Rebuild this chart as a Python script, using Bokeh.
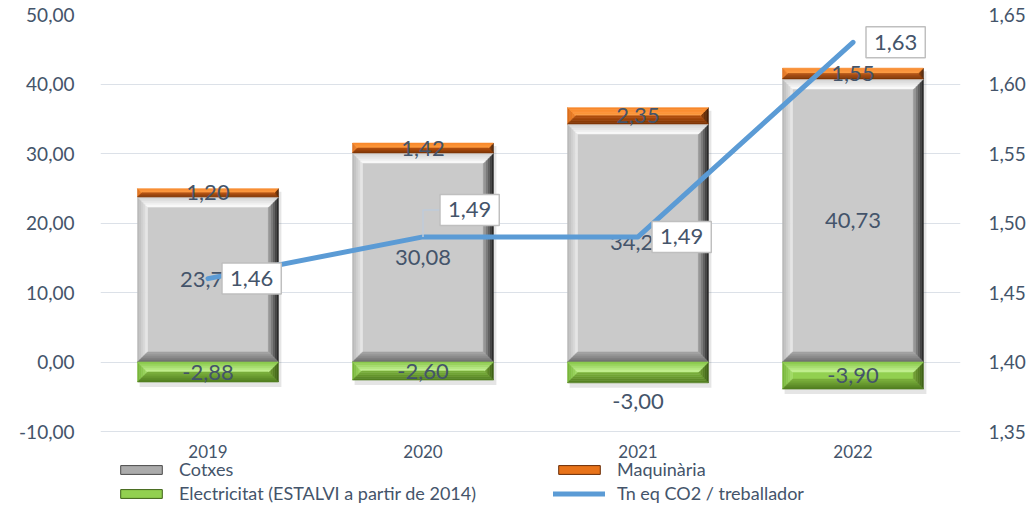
import numpy as np
from bokeh.plotting import figure
from bokeh.models import (Range1d, LinearAxis, FixedTicker, ColumnDataSource, Legend,
                          LegendItem, CustomJSTickFormatter)
from bokeh.core.properties import value
from bokeh.embed import file_html
from bokeh.resources import INLINE

# ---------------- data ----------------
years = ["2019", "2020", "2021", "2022"]
cotxes = [23.74, 30.08, 34.25, 40.73]
maquinaria = [1.20, 1.42, 2.35, 1.55]
electricitat = [-2.88, -2.60, -3.00, -3.90]
co2_per_worker = [1.46, 1.49, 1.49, 1.63]
left_ticks = [-10, 0, 10, 20, 30, 40, 50]
right_ticks = [1.35, 1.40, 1.45, 1.50, 1.55, 1.60, 1.65]

# ---------------- style / layout ----------------
FONT = "Lato"
TXT = "#44546A"
TOP, LEFT, RIGHT = 14, 100, 50
FRAME_W = 860
PLOT_H = 417            # pixel height of the value area (50 -> -10)
FRAME_H = 504 - TOP     # frame extends down to hold year labels and legend
X0, X1 = 0, len(years)
sx = FRAME_W / (X1 - X0)
sy = PLOT_H / (max(left_ticks) - min(left_ticks))
syr = PLOT_H / (max(right_ticks) - min(right_ticks))
YL1 = max(left_ticks)
YL0 = YL1 - FRAME_H / sy
YR1 = max(right_ticks)
YR0 = YR1 - FRAME_H / syr
BAR_W = 0.655
BEVEL = 10

green_label_dy_px = [0, 0, -29, 0]       # 2021 label sits below its bar
line_label_dy_px = [0, 27, 0, 0]         # 2020 label raised with a leader line
line_label_dx_px = [14, 17, 14, 13]
YEAR_DY = 20

fmt = lambda v: f"{v:.2f}".replace(".", ",")

GRAY = dict(face="#CACACA", top=("#D0D0D0", "#FCFCFC"), bottom=("#6A6A6A", "#A8A8A8"),
            left=("#B5B5B5", "#EAEAEA"), right=("#1E1E1E", "#A4A4A4"))
ORANGE = dict(face="#E8731A", top=("#F7872A", "#FF9A3E"), bottom=("#7A3306", "#B4500E"),
              left=("#D96A18", "#F28530"), right=("#3E1A03", "#9C470C"))
GREEN = dict(face="#92D050", top=("#86C545", "#C6F396"), bottom=("#4E7A1E", "#7DB33E"),
             left=("#74B236", "#A6E06A"), right=("#3A5C14", "#76A536"))


def hex2rgb(h):
    h = h.lstrip("#")
    return [int(h[i:i + 2], 16) for i in (0, 2, 4)]


def lerp(c1, c2, t):
    a, b = hex2rgb(c1), hex2rgb(c2)
    return "#%02x%02x%02x" % tuple(int(round(a[i] + (b[i] - a[i]) * t)) for i in range(3))


def bevel(x0, x1, y0, y1, cols, n=5):
    xs, ys, cs = [], [], []
    w = (x1 - x0) * sx
    h = (y1 - y0) * sy
    b = min(BEVEL, h / 2, w / 2)
    bx, by = b / sx, b / sy
    if h / 2 > b:
        xs.append([x0 + bx, x1 - bx, x1 - bx, x0 + bx])
        ys.append([y0 + by, y0 + by, y1 - by, y1 - by])
        cs.append(cols["face"])
    for k in range(n):
        t0, t1 = k / n, (k + 1) / n
        ax0, ax1 = bx * t0, bx * t1
        ay0, ay1 = by * t0, by * t1
        tm = (k + 0.5) / n
        xs.append([x0 + ax0, x0 + ax0, x0 + ax1, x0 + ax1])
        ys.append([y0 + ay0, y1 - ay0, y1 - ay1, y0 + ay1])
        cs.append(lerp(*cols["left"], tm))
        xs.append([x1 - ax0, x1 - ax0, x1 - ax1, x1 - ax1])
        ys.append([y0 + ay0, y1 - ay0, y1 - ay1, y0 + ay1])
        cs.append(lerp(*cols["right"], tm))
        xs.append([x0 + ax0, x1 - ax0, x1 - ax1, x0 + ax1])
        ys.append([y1 - ay0, y1 - ay0, y1 - ay1, y1 - ay1])
        cs.append(lerp(*cols["top"], tm))
        xs.append([x0 + ax0, x1 - ax0, x1 - ax1, x0 + ax1])
        ys.append([y0 + ay0, y0 + ay0, y0 + ay1, y0 + ay1])
        cs.append(lerp(*cols["bottom"], tm))
    return xs, ys, cs


# ---------------- figure ----------------
p = figure(frame_width=FRAME_W, frame_height=FRAME_H,
           x_range=Range1d(X0, X1), y_range=Range1d(YL0, YL1),
           output_backend="svg", toolbar_location=None, x_axis_location=None,
           min_border_left=LEFT, min_border_right=RIGHT, min_border_top=TOP,
           min_border_bottom=0)
p.extra_y_ranges = {"right": Range1d(YR0, YR1)}
p.outline_line_color = None
p.background_fill_color = "white"
p.border_fill_color = "white"

# left axis
p.yaxis.ticker = FixedTicker(ticks=left_ticks)
p.yaxis.formatter = CustomJSTickFormatter(code="return tick.toFixed(2).replace('.', ',');")
p.yaxis.axis_line_color = None
p.yaxis.major_tick_line_color = None
p.yaxis.minor_tick_line_color = None
p.yaxis.major_label_standoff = 20
p.yaxis.major_label_text_font = FONT
p.yaxis.major_label_text_font_size = "19px"
p.yaxis.major_label_text_color = TXT

# right axis
ra = LinearAxis(y_range_name="right", ticker=FixedTicker(ticks=right_ticks),
                formatter=CustomJSTickFormatter(code="return tick.toFixed(2).replace('.', ',');"))
ra.axis_line_color = None
ra.major_tick_line_color = None
ra.minor_tick_line_color = None
ra.major_label_standoff = 22
ra.major_label_text_font = FONT
ra.major_label_text_font_size = "19px"
ra.major_label_text_color = TXT
p.add_layout(ra, "right")

p.xgrid.grid_line_color = None
p.ygrid.ticker = FixedTicker(ticks=left_ticks)
p.ygrid.grid_line_color = "#DCE1E8"
p.ygrid.grid_line_width = 1

centers = [i + 0.5 for i in range(len(years))]

# category labels (drawn under the value area)
p.text(x=centers, y=[min(left_ticks)] * len(years), text=years, y_offset=YEAR_DY,
       text_align="center", text_baseline="middle", text_font=value(FONT),
       text_font_size="17px", text_color=TXT)

# ---------------- bars ----------------
sh_l, sh_r, sh_t, sh_b = [], [], [], []
XS, YS, CS = [], [], []
for i, c in enumerate(centers):
    x0, x1 = c - BAR_W / 2, c + BAR_W / 2
    segs = [(0, cotxes[i], GRAY),
            (cotxes[i], cotxes[i] + maquinaria[i], ORANGE),
            (electricitat[i], 0, GREEN)]
    sh_l.append(x0 + 2 / sx)
    sh_r.append(x1 + 3 / sx)
    sh_t.append(cotxes[i] + maquinaria[i] - 3 / sy)
    sh_b.append(electricitat[i] - 5 / sy)
    for (a, b, cols) in segs:
        xs, ys, cs = bevel(x0, x1, a, b, cols)
        XS += xs
        YS += ys
        CS += cs

p.quad(left=sh_l, right=sh_r, top=sh_t, bottom=sh_b, fill_color="black",
       fill_alpha=0.10, line_color=None)
bar_src = ColumnDataSource(dict(xs=XS, ys=YS, c=CS))
p.patches("xs", "ys", source=bar_src, fill_color="c", line_color="c", line_width=0.6)

# bar value labels
lab_x, lab_y, lab_t, lab_dy = [], [], [], []
for i, c in enumerate(centers):
    lab_x += [c, c, c]
    lab_y += [cotxes[i] / 2, cotxes[i] + maquinaria[i] / 2, electricitat[i] / 2]
    lab_t += [fmt(cotxes[i]), fmt(maquinaria[i]), fmt(electricitat[i])]
    lab_dy += [0, 0, green_label_dy_px[i]]
lab_src = ColumnDataSource(dict(x=lab_x, y=lab_y, t=lab_t, dy=[-d for d in lab_dy]))
p.text(x="x", y="y", text="t", y_offset="dy", source=lab_src, text_align="center",
       text_baseline="middle", text_font=value(FONT), text_font_size="22px", text_color=TXT)

# ---------------- line ----------------
line_r = p.line(centers, co2_per_worker, y_range_name="right", line_color="#5B9BD5",
                line_width=5, line_cap="round", line_join="round")

lx, ly = [], []
for i, c in enumerate(centers):
    if line_label_dy_px[i]:
        yt = co2_per_worker[i] + line_label_dy_px[i] / syr
        lx.append([c, c, c + line_label_dx_px[i] / sx])
        ly.append([co2_per_worker[i], yt, yt])
if lx:
    p.multi_line(lx, ly, y_range_name="right", line_color="#BFCBDA", line_width=1.5)

PAD = 8
ll_src = ColumnDataSource(dict(x=centers, y=co2_per_worker, t=[fmt(v) for v in co2_per_worker],
                               dx=line_label_dx_px,
                               dy=[-d for d in line_label_dy_px]))
p.text(x="x", y="y", text="t", x_offset="dx", y_offset="dy", source=ll_src,
       y_range_name="right", text_align="left", text_baseline="middle",
       text_font=value(FONT), text_font_size="22px", text_color=TXT,
       background_fill_color="white", border_line_color="#BFBFBF", border_line_width=1.5,
       padding=PAD)

# ---------------- legend (proxy swatches kept outside the visible x range) ----------------
def proxy(fill, line):
    src = ColumnDataSource(dict(left=[X1 + 1], right=[X1 + 2], top=[1], bottom=[0]))
    return p.quad(left="left", right="right", top="top", bottom="bottom", source=src,
                  fill_color=fill, line_color=line, line_width=1)

r_cot = proxy("#ABABAB", "#4A4A4A")
r_maq = proxy("#E8731A", "#6A2C05")
r_ele = proxy("#92D050", "#3E6216")

legend = Legend(items=[LegendItem(label="Cotxes", renderers=[r_cot]),
                       LegendItem(label="Maquinària", renderers=[r_maq]),
                       LegendItem(label="Electricitat (ESTALVI a partir de 2014)", renderers=[r_ele]),
                       LegendItem(label="Tn eq CO2 / treballador", renderers=[line_r])],
                orientation="horizontal", ncols=2,
                location=(15, 0), margin=0, padding=0, spacing=2,
                glyph_width=52, glyph_height=11, label_standoff=12,
                label_width=372, label_height=18,
                label_text_font=FONT, label_text_font_size="18px", label_text_color=TXT,
                border_line_color=None, background_fill_alpha=0)
p.add_layout(legend, "center")

open("out.html", "w").write(file_html(p, INLINE))
